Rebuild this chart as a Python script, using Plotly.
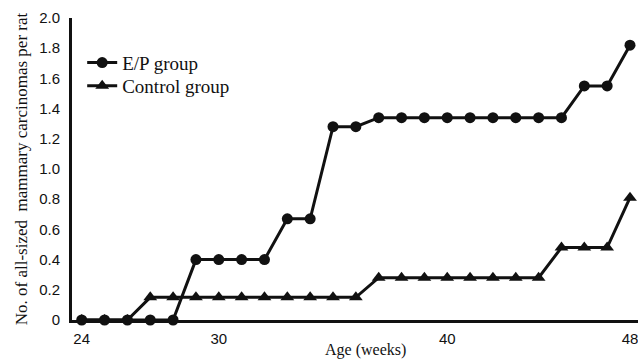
import plotly.graph_objects as go

weeks = list(range(24, 49))
ep_group = [0, 0, 0, 0, 0, 0.40, 0.40, 0.40, 0.40, 0.67, 0.67, 1.28, 1.28,
            1.34, 1.34, 1.34, 1.34, 1.34, 1.34, 1.34, 1.34, 1.34, 1.55, 1.55, 1.82]
control_group = [0, 0, 0, 0.15, 0.15, 0.15, 0.15, 0.15, 0.15, 0.15, 0.15, 0.15, 0.15,
                 0.28, 0.28, 0.28, 0.28, 0.28, 0.28, 0.28, 0.28, 0.48, 0.48, 0.48, 0.81]
x_ticks = [24, 30, 40, 48]
x_ticktext = ["24", "30", "40", "48"]
y_ticks = [0, 0.2, 0.4, 0.6, 0.8, 1.0, 1.2, 1.4, 1.6, 1.8, 2.0]
y_ticktext = ["0", "0.2", "0.4", "0.6", "0.8", "1.0", "1.2", "1.4", "1.6", "1.8", "2.0"]

ink = "#111111"
serif = "Liberation Serif"
sans = "Liberation Sans"

fig = go.Figure()
fig.add_trace(go.Scatter(
    x=weeks, y=ep_group, name="E/P group", mode="lines+markers",
    line=dict(color=ink, width=3),
    marker=dict(symbol="circle", size=11, color=ink),
    cliponaxis=False, legend="legend",
))
fig.add_trace(go.Scatter(
    x=weeks, y=control_group, name="Control group", mode="lines+markers",
    line=dict(color=ink, width=3),
    marker=dict(symbol="triangle-up", size=12, color=ink),
    cliponaxis=False, legend="legend2",
))

legend_style = dict(xanchor="left", yanchor="top",
                    font=dict(family=serif, size=19, color=ink),
                    bgcolor="rgba(0,0,0,0)")

fig.update_layout(
    width=638, height=359,
    margin=dict(l=72, r=0, t=18, b=39),
    paper_bgcolor="white", plot_bgcolor="white",
    showlegend=True,
    legend=dict(x=0.018, y=0.915, **legend_style),
    legend2=dict(x=0.018, y=0.838, **legend_style),
    annotations=[dict(text="Age (weeks)", xref="paper", yref="paper",
                      x=0.519, y=0, xanchor="center", yanchor="top", yshift=-19,
                      showarrow=False, font=dict(family=serif, size=16, color=ink))],
)
fig.update_xaxes(
    range=[23.575, 48.35], tickvals=x_ticks, ticktext=x_ticktext,
    showline=True, linewidth=3, linecolor=ink, showgrid=False, zeroline=False,
    ticks="", tickfont=dict(family=sans, size=15, color=ink),
    ticklabelstandoff=3, ticklabeloverflow="allow",
)
fig.update_yaxes(
    range=[0, 2.0], tickvals=y_ticks, ticktext=y_ticktext,
    showline=True, linewidth=3, linecolor=ink, showgrid=False, zeroline=False,
    ticks="", tickfont=dict(family=sans, size=15, color=ink),
    ticklabelstandoff=6,
    title=dict(text="No. of all-sized  mammary carcinomas per rat", standoff=8,
               font=dict(family=serif, size=17, color=ink)),
)

fig.write_html("out.html", config={"displayModeBar": False},
               post_script="document.body.style.margin='0';document.body.style.overflow='hidden';")
